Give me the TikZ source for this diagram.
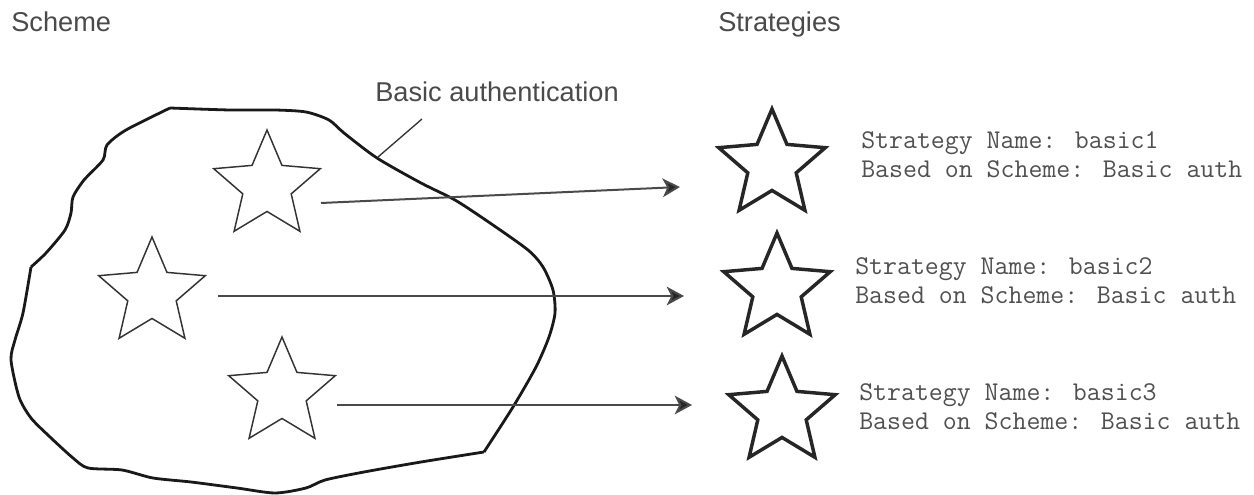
\documentclass[tikz,border=0pt]{standalone}
\usepackage{fontspec}
\setmainfont{Liberation Sans}
\usetikzlibrary{shapes.geometric,arrows.meta}
\definecolor{labelgrey}{HTML}{4A4A4A}
\definecolor{monogrey}{HTML}{505050}
\definecolor{linegrey}{HTML}{333333}
\definecolor{shaftgrey}{HTML}{4A4A4A}
\tikzset{
  x=0.75pt,y=-0.75pt,
  basestar/.style={star,star points=5,star point ratio=2.2,inner sep=0pt,fill=none,line join=miter},
  thinstar/.style={basestar,minimum size=84pt,line width=1.1pt,draw=linegrey},
  thickstar/.style={basestar,minimum size=84pt,line width=2.6pt,draw=black!85},
  linkarrow/.style={draw=shaftgrey,line width=1.5pt,-{Stealth[length=13pt,width=14pt,inset=3.5pt,fill=black!85]}},
  headlabel/.style={inner sep=0pt,anchor=base west,text=labelgrey,font=\fontsize{20.4pt}{24pt}\selectfont},
  monolabel/.style={inner sep=0pt,anchor=base west,align=left,text=monogrey,font=\ttfamily\fontsize{20.3pt}{21.75pt}\selectfont},
  outline/.style={line width=2.1pt,line join=round,black!90},
}
\begin{document}
\begin{tikzpicture}
\useasboundingbox (0,0) rectangle (1254,495);
\fill[white] (0,0) rectangle (1254,495);
% blob
\draw[outline] plot[smooth,tension=0.45] coordinates {(170,108)(230,110)(275,110)(306,112)(329,120)(344,133)(377,158)(421,183)(455,200)(490,223)(528,250)(543,267)(553,290)(555,313)(549,337)(536,367)(513,407)(484,452)};
\draw[outline] plot[smooth,tension=0.45] coordinates {(484,452)(421,462)(364,472)(325,480)(306,488)(275,493)(237,488)(191,482)(153,478)(122,470)(88,468)(73,458)(50,437)(31,418)(19,397)(11,360)(15,340)(23,313)(31,267)};
\draw[outline] plot[smooth,tension=0.45] coordinates {(31,267)(46,253)(65,230)(71,213)(73,197)(84,180)(103,160)(107,145)(126,130)(170,108)};
% stars
\node[thinstar] (s1) at (267,186) {};
\node[thinstar] (s2) at (152,293) {};
\node[thinstar] (s3) at (282,393) {};
\node[thickstar] (r1) at (772,165) {};
\node[thickstar] (r2) at (777,289) {};
\node[thickstar] (r3) at (782,412) {};
% arrow ends
\coordinate (a1) at (321,203);
\coordinate (b1) at (680,187);
\coordinate (a2) at (218,296);
\coordinate (b2) at (684,296);
\coordinate (a3) at (337,405);
\coordinate (b3) at (692,405);
\coordinate (l1) at (422,119);
\coordinate (l2) at (378,157);
\draw[linkarrow] (a1) -- (b1);
\draw[linkarrow] (a2) -- (b2);
\draw[linkarrow] (a3) -- (b3);
\draw[line width=1pt,linegrey] (l1) -- (l2);
% labels
\node[headlabel] (scheme) at (11,32) {Scheme};
\node[headlabel] (strat) at (718,32) {Strategies};
\node[headlabel] (basic) at (375,102) {Basic authentication};
\node[monolabel] (t1) at (861,178) {Strategy Name: basic1\\Based on Scheme: Basic auth};
\node[monolabel] (t2) at (855,304) {Strategy Name: basic2\\Based on Scheme: Basic auth};
\node[monolabel] (t3) at (859,430) {Strategy Name: basic3\\Based on Scheme: Basic auth};
\end{tikzpicture}
\end{document}
